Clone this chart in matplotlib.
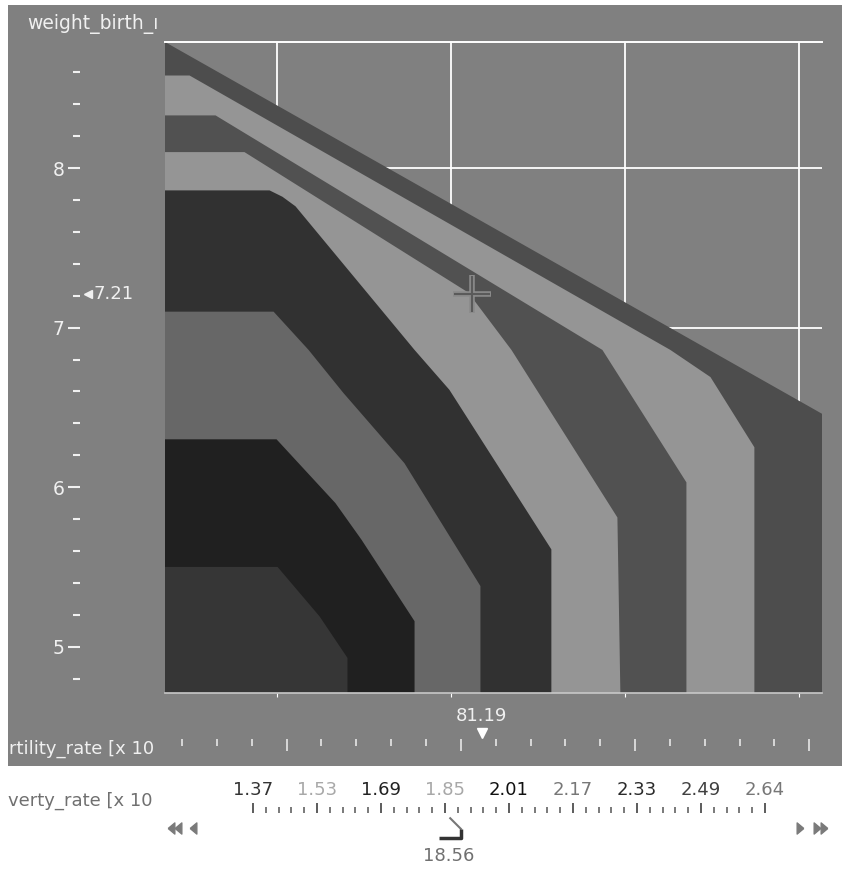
import numpy as np
import matplotlib.pyplot as plt
from matplotlib.patches import Rectangle
from matplotlib.path import Path
from matplotlib.ticker import MultipleLocator, FixedLocator

plt.rcParams['font.family'] = ['DejaVu Sans']

# data extent: fertility_rate [x 10] on x, weight_birth on y
x_lo, x_hi = 63.6, 101.3
y_lo, y_hi = 4.71, 8.79

# band boundaries, outermost first; each band fills down to the lower-left corner
edge_x = [63.6, 101.3, 101.3]
edge_y = [8.79, 6.46, 4.71]
b7_x = [63.6, 65.01, 92.60, 94.90, 97.42, 97.42]
b7_y = [8.58, 8.58, 6.86, 6.69, 6.25, 4.71]
b6_x = [63.6, 66.50, 88.70, 93.52, 93.52]
b6_y = [8.33, 8.33, 6.86, 6.03, 4.71]
b5_x = [63.6, 68.16, 81.00, 83.48, 89.56, 89.73]
b5_y = [8.10, 8.10, 7.22, 6.86, 5.81, 4.71]
b4_x = [63.6, 69.60, 70.34, 71.09, 77.92, 79.92, 85.77, 85.77]
b4_y = [7.86, 7.86, 7.82, 7.76, 6.86, 6.61, 5.61, 4.71]
b3_x = [63.6, 69.83, 71.84, 73.84, 77.34, 81.70, 81.70]
b3_y = [7.10, 7.10, 6.86, 6.59, 6.15, 5.38, 4.71]
b2_x = [63.6, 70.00, 73.38, 74.88, 77.92, 77.92]
b2_y = [6.30, 6.30, 5.90, 5.67, 5.16, 4.71]
b1_x = [63.6, 70.06, 72.47, 74.07, 74.07]
b1_y = [5.50, 5.50, 5.19, 4.93, 4.71]
band_colors = ['#4d4d4d', '#959595', '#515151', '#959595',
               '#313131', '#676767', '#202020', '#363636']

fert_value = 81.19
weight_value = 7.21

pov_labels = ['1.37', '1.53', '1.69', '1.85', '2.01', '2.17', '2.33', '2.49', '2.64']
pov_lo, pov_hi = 1.37, 2.64
pov_value = 18.56
pov_label_colors = ['#333333', '#a8a8a8', '#222222', '#a8a8a8', '#111111',
                    '#777777', '#2a2a2a', '#404040', '#777777']

W, H = 842, 869
fs = 13
fig = plt.figure(figsize=(W / 100, H / 100), dpi=100)


def box(l, t, r, b):
    return [l / W, 1 - b / H, (r - l) / W, (b - t) / H]


# background panel in pixel units
bg = fig.add_axes([0, 0, 1, 1])
bg.set_xlim(0, W)
bg.set_ylim(H, 0)
bg.axis('off')
bg.add_patch(Rectangle((8, 5), W - 8, 761, color='#808080', lw=0))
bg.text(27, 29, 'weight_birth_ı', color='#f0f0f0', size=fs + 0.5, va='baseline')
bg.text(9, 754, 'rtility_rate [x 10', color='#f0f0f0', size=fs, va='baseline')
bg.text(8, 806, 'verty_rate [x 10', color='#707070', size=fs, va='baseline')

tri_left = [(-0.6, 0), (0.6, 1), (0.6, -1), (-0.6, 0)]
tri_right = [(0.6, 0), (-0.6, 1), (-0.6, -1), (0.6, 0)]
bg.plot([171, 178, 193], [828] * 3, ls='none', marker=tri_left, ms=8, color='#7a7a7a')
bg.plot([800, 817, 824], [828] * 3, ls='none', marker=tri_right, ms=8, color='#7a7a7a')

# main plot
ax = fig.add_axes(box(165, 42, 822, 693))
ax.set_facecolor('#808080')
ax.set_xlim(x_lo, x_hi)
ax.set_ylim(y_lo, y_hi)
ax.set_axisbelow(True)
ax.set_xticks([70, 80, 90, 100])
ax.set_yticks([5, 6, 7, 8])
ax.yaxis.set_minor_locator(MultipleLocator(0.2))
ax.grid(True, color='white', lw=1.3)

bounds = [(edge_x, edge_y), (b7_x, b7_y), (b6_x, b6_y), (b5_x, b5_y),
          (b4_x, b4_y), (b3_x, b3_y), (b2_x, b2_y), (b1_x, b1_y)]
for (bx, by), c in zip(bounds, band_colors):
    ax.fill(bx + [x_lo], by + [y_lo], color=c, lw=0, zorder=2)

ax.spines['right'].set_visible(False)
ax.spines['top'].set_color('white')
ax.spines['top'].set_linewidth(1.4)
ax.spines['bottom'].set_color('#c8c8c8')
ax.spines['bottom'].set_linewidth(1.2)
ax.spines['left'].set_position(('outward', 61))
ax.spines['left'].set_visible(False)
ax.tick_params(axis='x', length=3, color='white', labelbottom=False)
ax.tick_params(axis='y', which='major', direction='out', length=8.6, width=1.5,
               color='#f0f0f0', labelcolor='#f0f0f0', labelsize=fs + 0.5, pad=3)
ax.tick_params(axis='y', which='minor', direction='out', length=5, width=1.5,
               color='#f0f0f0')

# cursor and y readout
ax.plot(fert_value, weight_value, marker='+', ms=27, mew=4, color='#8a8a8a', zorder=3)
ax.plot(fert_value, weight_value, marker='+', ms=26, mew=1.5, color='#5a5a5a', zorder=3)
ytr = ax.get_yaxis_transform()
ax.plot(-0.117, weight_value, marker='<', ms=6, color='#f0f0f0', transform=ytr, clip_on=False)
ax.text(-0.109, weight_value, f'{weight_value:.2f}', transform=ytr, ha='left', va='center',
        color='#f0f0f0', size=fs)

# fertility ruler
fr = fig.add_axes(box(175, 700, 832, 739))
fr.set_xlim(x_lo, x_hi)
fr.set_ylim(0, 1)
fr.patch.set_alpha(0)
for s in fr.spines.values():
    s.set_visible(False)
fr.set_yticks([])
fr.xaxis.set_major_locator(MultipleLocator(10))
fr.xaxis.set_minor_locator(MultipleLocator(2))
fr.tick_params(axis='x', which='major', direction='out', length=8.6, width=1.1,
               color='#f0f0f0', labelbottom=False)
fr.tick_params(axis='x', which='minor', direction='out', length=5, width=1.1, color='#f0f0f0')
fr.text(fert_value, 23 / 39, f'{fert_value:.2f}', ha='center', va='center',
        color='#f0f0f0', size=fs)
fr.plot(fert_value, 6 / 39, marker='v', ms=7, color='white', clip_on=False)

# poverty ruler
px_per = 512 / (pov_hi - pov_lo)
pr = fig.add_axes(box(251, 813, 767, 869))
pr.set_xlim(pov_lo - 2 / px_per, pov_hi + 2 / px_per)
pr.set_ylim(0, 1)
pr.patch.set_alpha(0)
for s in pr.spines.values():
    s.set_visible(False)
pr.set_yticks([])
pr.xaxis.tick_top()
pr.set_xticks(np.linspace(pov_lo, pov_hi, len(pov_labels)), pov_labels)
pr.xaxis.set_minor_locator(FixedLocator(np.linspace(pov_lo, pov_hi, 5 * (len(pov_labels) - 1) + 1)))
pr.tick_params(axis='x', which='major', direction='out', length=7.2, width=1.1,
               color='#303030', labelsize=fs, pad=3)
pr.tick_params(axis='x', which='minor', direction='out', length=4.3, width=1.1, color='#555555')
for lbl, c in zip(pr.get_xticklabels(), pov_label_colors):
    lbl.set_color(c)

thumb_diag = Path([(0, 0), (12, -12)])
thumb_ell = Path([(12, -12), (12, -21), (-10, -21)])
xtr = pr.get_xaxis_transform()
pr.plot(pov_value / 10, 1 - 4 / 56, marker=thumb_diag, ms=17.3, mfc='none', mew=1.5,
        mec='#777777', transform=xtr, clip_on=False)
pr.plot(pov_value / 10, 1 - 4 / 56, marker=thumb_ell, ms=30.2, mfc='none', mew=2.5,
        mec='#333333', transform=xtr, clip_on=False)
pr.text(pov_value / 10, 1 - 43 / 56, f'{pov_value:.2f}', ha='center', va='center',
        color='#707070', size=fs, transform=xtr)

fig.savefig('out.png', dpi=100)
